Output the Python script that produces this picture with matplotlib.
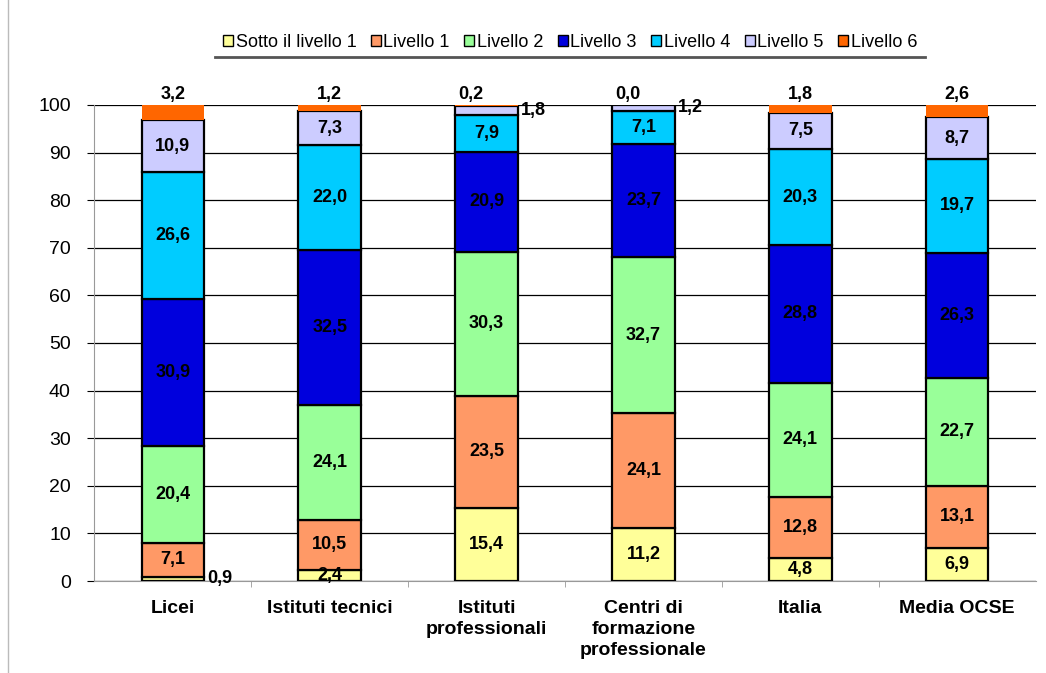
import numpy as np
import matplotlib.pyplot as plt
from matplotlib.lines import Line2D
from matplotlib.patches import Patch

plt.rcParams['font.family'] = ['Liberation Sans', 'DejaVu Sans']

categories = ['Licei', 'Istituti tecnici', 'Istituti\nprofessionali',
              'Centri di\nformazione\nprofessionale', 'Italia', 'Media OCSE']
levels = ['Sotto il livello 1', 'Livello 1', 'Livello 2', 'Livello 3',
          'Livello 4', 'Livello 5', 'Livello 6']

sotto = [0.9, 2.4, 15.4, 11.2, 4.8, 6.9]
liv1 = [7.1, 10.5, 23.5, 24.1, 12.8, 13.1]
liv2 = [20.4, 24.1, 30.3, 32.7, 24.1, 22.7]
liv3 = [30.9, 32.5, 20.9, 23.7, 28.8, 26.3]
liv4 = [26.6, 22.0, 7.9, 7.1, 20.3, 19.7]
liv5 = [10.9, 7.3, 1.8, 1.2, 7.5, 8.7]
liv6 = [3.2, 1.2, 0.2, 0.0, 1.8, 2.6]

series = [sotto, liv1, liv2, liv3, liv4, liv5, liv6]
colors = ['#FFFF99', '#FF9966', '#99FF99', '#0000DD', '#00CCFF', '#CCCCFF', '#FF6600']

fig = plt.figure(figsize=(10.46, 6.73), dpi=100)
ax = fig.add_axes([0.0903, 0.1367, 0.8997, 0.7073])

x = np.arange(len(categories))
w = 0.4
bottom = np.zeros(len(categories))
for i, (vals, col) in enumerate(zip(series, colors)):
    vals = np.array(vals)
    if i == 6:
        ax.bar(x, vals, w, bottom=bottom, color=col, edgecolor='none', zorder=3)
    else:
        ax.bar(x, vals, w, bottom=bottom, color=col, edgecolor='black', linewidth=1.6, zorder=3)
    for j, v in enumerate(vals):
        txt = f'{v:.1f}'.replace('.', ',')
        mid = bottom[j] + v / 2
        if i == 6:
            # top level: label above the bar
            dx = -0.1 if v < 1 else 0
            ax.text(x[j] + dx, 100.4, txt, ha='center', va='bottom', fontsize=13,
                    fontweight='bold', zorder=5)
        elif v < 2:
            ax.text(x[j] + w / 2 + 0.02, mid, txt, ha='left', va='center', fontsize=13,
                    fontweight='bold', zorder=5)
        else:
            ax.text(x[j], mid, txt, ha='center', va='center', fontsize=13,
                    fontweight='bold', zorder=5)
    bottom += vals

ax.set_xlim(-0.5, len(categories) - 0.5)
ax.set_ylim(0, 100)
ax.set_yticks(range(0, 101, 10))
ax.yaxis.grid(True, color='black', linewidth=0.9, zorder=0)
ax.set_axisbelow(True)
ax.tick_params(axis='y', labelsize=14, length=5, color='black', pad=12)
ax.set_xticks(x)
ax.set_xticklabels(categories, fontsize=14, fontweight='bold', linespacing=1.3)
ax.tick_params(axis='x', length=0, pad=14)
ax.set_xticks(np.arange(0.5, len(categories) - 0.5, 1), minor=True)
ax.tick_params(axis='x', which='minor', length=4, color='#999999', direction='out')
for s in ['top', 'right']:
    ax.spines[s].set_visible(False)
ax.spines['left'].set_color('#999999')
ax.spines['bottom'].set_color('#999999')

handles = [Patch(facecolor=c, edgecolor='black', linewidth=1) for c in colors]
fig.legend(handles, levels, loc='center', bbox_to_anchor=(0.545, 0.937), ncol=7,
           frameon=False, fontsize=13, handlelength=0.55, handleheight=0.55,
           handletextpad=0.15, columnspacing=0.8)
fig.add_artist(Line2D([0.206, 0.884], [0.915, 0.915], color='#555555', linewidth=2))
fig.add_artist(Line2D([0.008, 0.008], [0, 1], color='#BBBBBB', linewidth=1))

fig.savefig('out.png', dpi=100)
